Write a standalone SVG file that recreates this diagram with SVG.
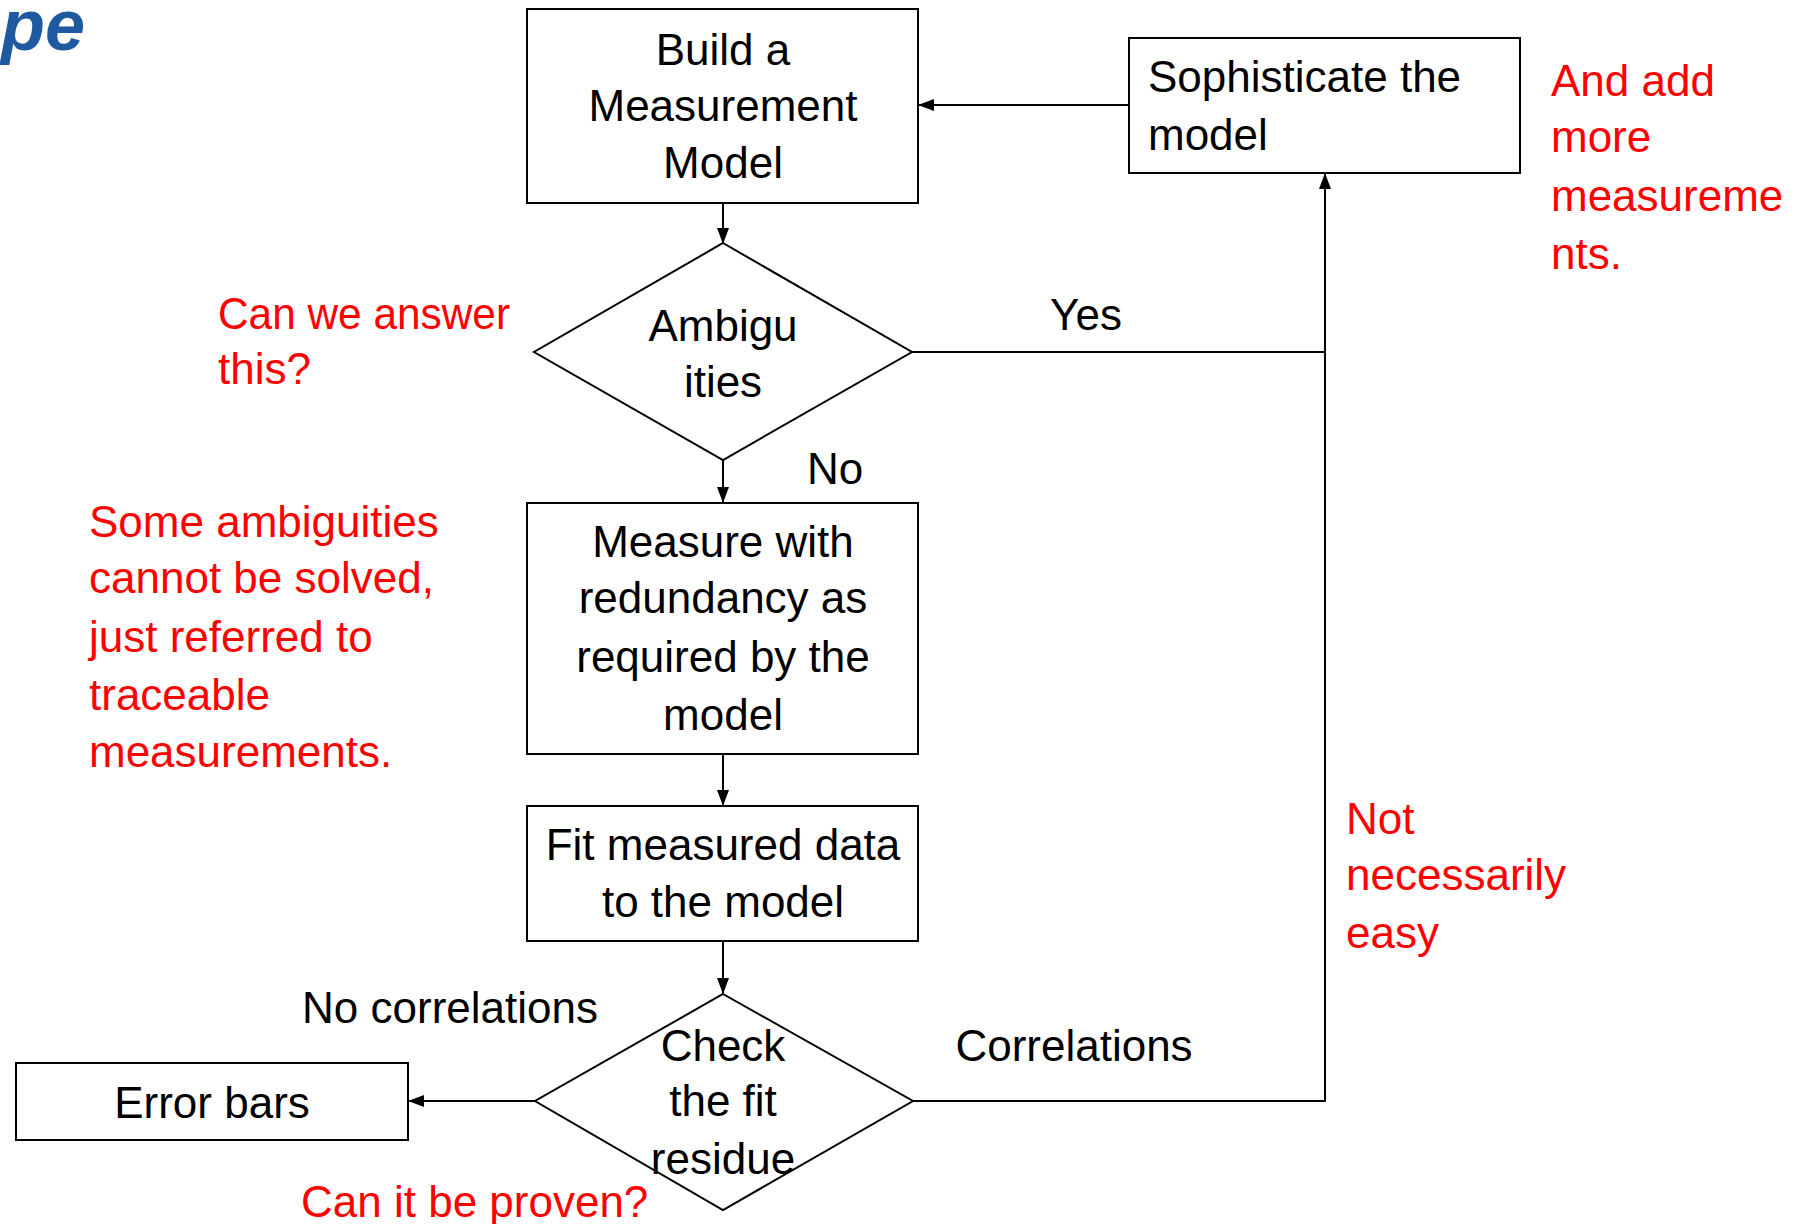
<svg xmlns="http://www.w3.org/2000/svg" width="1808" height="1224" viewBox="0 0 1808 1224">
<style>
text{font-family:"Liberation Sans",Arial,sans-serif;font-size:44px}
.b{fill:#000}
.r{fill:#ff0000}
.m{text-anchor:middle}
.shape{fill:#fff;stroke:#000;stroke-width:2}
.conn{fill:none;stroke:#000;stroke-width:2}
</style>
<defs>
<marker id="ah" markerWidth="16" markerHeight="12" refX="15" refY="6" orient="auto" markerUnits="userSpaceOnUse">
<path d="M0,0 L16,6 L0,12 Z" fill="#000"/>
</marker>
</defs>
<rect width="1808" height="1224" fill="#fff"/>
<text x="1" y="50" style="font-size:72px;font-weight:bold;font-style:italic;fill:#1f5aa0">pe</text>

<g id="connectors">
<line class="conn" x1="723" y1="203" x2="723" y2="243" marker-end="url(#ah)"/>
<line class="conn" x1="1129" y1="105" x2="919" y2="105" marker-end="url(#ah)"/>
<polyline class="conn" points="912,352 1325,352"/>
<polyline class="conn" points="913,1101 1325,1101 1325,174" marker-end="url(#ah)"/>
<line class="conn" x1="723" y1="460" x2="723" y2="502" marker-end="url(#ah)"/>
<line class="conn" x1="723" y1="754" x2="723" y2="805" marker-end="url(#ah)"/>
<line class="conn" x1="723" y1="941" x2="723" y2="993" marker-end="url(#ah)"/>
<line class="conn" x1="535" y1="1101" x2="409" y2="1101" marker-end="url(#ah)"/>
<text x="1086" y="330" class="b m">Yes</text>
<text x="835" y="484" class="b m">No</text>
<text x="450" y="1023" class="b m">No correlations</text>
<text x="1074" y="1061" class="b m">Correlations</text>
</g>

<g id="build">
<rect class="shape" x="527" y="9" width="391" height="194"/>
<text x="723" y="65" class="b m">Build a</text>
<text x="723" y="121" class="b m">Measurement</text>
<text x="723" y="178" class="b m">Model</text>
</g>

<g id="sophisticate">
<rect class="shape" x="1129" y="38" width="391" height="135"/>
<text x="1148" y="92" class="b">Sophisticate the</text>
<text x="1148" y="150" class="b">model</text>
</g>

<g id="ambiguities">
<polygon class="shape" points="723,243 912,352 723,460 534,352"/>
<text x="723" y="341" class="b m">Ambigu</text>
<text x="723" y="397" class="b m">ities</text>
</g>

<g id="measure">
<rect class="shape" x="527" y="503" width="391" height="251"/>
<text x="723" y="557" class="b m">Measure with</text>
<text x="723" y="613" class="b m">redundancy as</text>
<text x="723" y="672" class="b m">required by the</text>
<text x="723" y="730" class="b m">model</text>
</g>

<g id="fit">
<rect class="shape" x="527" y="806" width="391" height="135"/>
<text x="723" y="860" class="b m">Fit measured data</text>
<text x="723" y="917" class="b m">to the model</text>
</g>

<g id="check">
<polygon class="shape" points="723,994 913,1101 723,1210 535,1101"/>
<text x="723" y="1061" class="b m">Check</text>
<text x="723" y="1116" class="b m">the fit</text>
<text x="723" y="1174" class="b m">residue</text>
</g>

<g id="errorbars">
<rect class="shape" x="16" y="1063" width="392" height="77"/>
<text x="212" y="1118" class="b m">Error bars</text>
</g>

<g id="notes">
<text x="218" y="329" class="r" textLength="292" lengthAdjust="spacingAndGlyphs">Can we answer</text>
<text x="218" y="384" class="r">this?</text>
<text x="89" y="537" class="r">Some ambiguities</text>
<text x="89" y="593" class="r">cannot be solved,</text>
<text x="89" y="652" class="r">just referred to</text>
<text x="89" y="710" class="r">traceable</text>
<text x="89" y="767" class="r">measurements.</text>
<text x="1551" y="96" class="r">And add</text>
<text x="1551" y="152" class="r">more</text>
<text x="1551" y="211" class="r">measureme</text>
<text x="1551" y="269" class="r">nts.</text>
<text x="1346" y="834" class="r">Not</text>
<text x="1346" y="890" class="r">necessarily</text>
<text x="1346" y="948" class="r">easy</text>
<text x="301" y="1217" class="r">Can it be proven?</text>
</g>
</svg>
